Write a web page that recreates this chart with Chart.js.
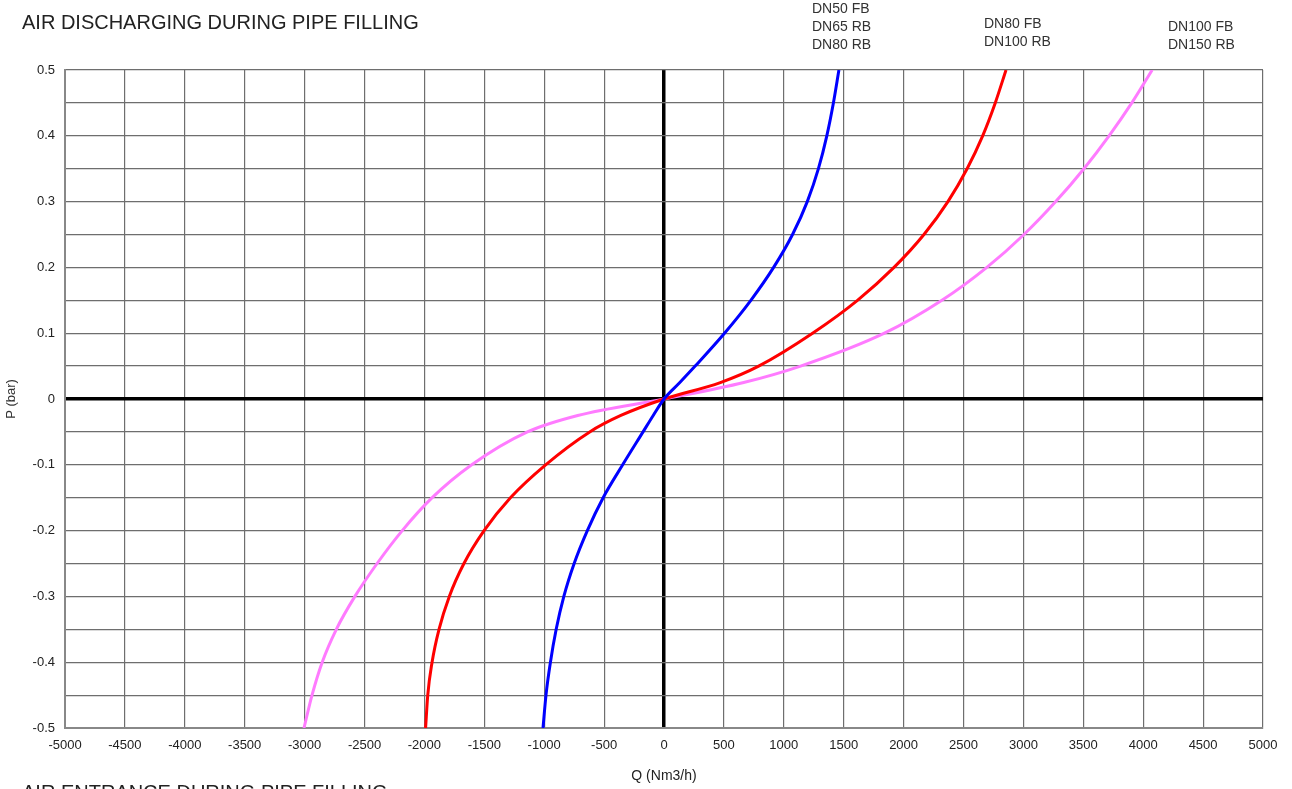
<!DOCTYPE html>
<html>
<head>
<meta charset="utf-8">
<script src="https://cdn.jsdelivr.net/npm/chart.js@4.4.1/dist/chart.umd.min.js"></script>
<style>
    html, body { margin: 0; padding: 0; background: #fff; }
    #wrap { width: 1292px; height: 789px; position: relative; }
</style>
</head>
<body>
<div id="wrap"><canvas id="airChart"></canvas></div>
<script>
// pressure levels (bar) where the curves were read
const pLevels = [-0.5, -0.45, -0.4, -0.35, -0.3, -0.25, -0.2, -0.15, -0.1, -0.05, -0.025, 0,
                 0.025, 0.05, 0.1, 0.15, 0.2, 0.25, 0.3, 0.35, 0.4, 0.45, 0.5];

// flow Q (Nm3/h) at each pressure level
const qDN50 = [-1010, -985, -948, -900, -836, -750, -640, -508, -345, -175, -90, 0,
               132, 260, 505, 725, 915, 1073, 1196, 1289, 1359, 1414, 1460];
const qDN80 = [-1990, -1972, -1936, -1878, -1792, -1670, -1502, -1282, -988, -620, -360, 0,
               470, 790, 1240, 1615, 1920, 2170, 2370, 2530, 2660, 2765, 2855];
const qDN100 = [-3005, -2938, -2853, -2735, -2580, -2395, -2185, -1935, -1605, -1140, -720, 0,
                665, 1140, 1840, 2320, 2695, 3005, 3270, 3505, 3715, 3905, 4075];

const seriesNames = ['DN50 FB / DN65 RB / DN80 RB', 'DN80 FB / DN100 RB', 'DN100 FB / DN150 RB'];

const chartTitle = 'AIR DISCHARGING DURING PIPE FILLING';
const nextTitle = 'AIR ENTRANCE DURING PIPE FILLING';

function toPoints(qs) {
    return qs.map((q, i) => ({ x: q, y: pLevels[i] }));
}

const textPlugin = {
    id: 'texts',
    afterDraw(chart) {
        const ctx = chart.ctx;
        ctx.save();
        ctx.fillStyle = '#222';
        ctx.textAlign = 'left';
        ctx.textBaseline = 'alphabetic';
        ctx.font = '20px "Liberation Sans", Arial, sans-serif';
        ctx.fillText(chartTitle, 22, 29);
        ctx.fillText(nextTitle, 22, 799);

        ctx.fillStyle = '#333';
        ctx.font = '14px "Liberation Sans", Arial, sans-serif';
        ctx.textBaseline = 'middle';
        ['DN50 FB', 'DN65 RB', 'DN80 RB'].forEach((t, i) => ctx.fillText(t, 812, 9 + i * 18));
        ['DN80 FB', 'DN100 RB'].forEach((t, i) => ctx.fillText(t, 984, 24 + i * 18));
        ['DN100 FB', 'DN150 RB'].forEach((t, i) => ctx.fillText(t, 1168, 27 + i * 18));
        ctx.restore();
    }
};

function gridColor(c) {
    return Math.abs(c.tick.value) < 1e-9 ? '#000' : '#6e6e6e';
}
function gridWidth(c) {
    return Math.abs(c.tick.value) < 1e-9 ? 3.5 : 1.2;
}

const ctx = document.getElementById('airChart').getContext('2d');
new Chart(ctx, {
    type: 'scatter',
    data: {
        datasets: [
            {
                label: seriesNames[0],
                data: toPoints(qDN50),
                borderColor: '#0000ff',
                showLine: true,
                borderWidth: 3,
                pointRadius: 0,
                cubicInterpolationMode: 'monotone'
            },
            {
                label: seriesNames[1],
                data: toPoints(qDN80),
                borderColor: '#ff0000',
                showLine: true,
                borderWidth: 3,
                pointRadius: 0,
                cubicInterpolationMode: 'monotone'
            },
            {
                label: seriesNames[2],
                data: toPoints(qDN100),
                borderColor: '#ff7bff',
                showLine: true,
                borderWidth: 3,
                pointRadius: 0,
                cubicInterpolationMode: 'monotone'
            }
        ]
    },
    options: {
        responsive: true,
        maintainAspectRatio: false,
        animation: false,
        layout: {
            padding: { top: 70, right: 29, left: 0, bottom: 0 }
        },
        scales: {
            x: {
                type: 'linear',
                min: -5000,
                max: 5000,
                afterFit: s => { s.height = 61; },
                ticks: {
                    stepSize: 500,
                    padding: 10,
                    maxRotation: 0,
                    autoSkip: false,
                    color: '#222',
                    font: { family: '"Liberation Sans", Arial, sans-serif', size: 13 },
                    callback: v => String(v)
                },
                grid: {
                    color: gridColor,
                    lineWidth: gridWidth,
                    drawTicks: false
                },
                border: { display: true, color: '#888', width: 2 },
                title: {
                    display: true,
                    text: 'Q (Nm3/h)',
                    color: '#222',
                    padding: { top: 4, bottom: 4 },
                    font: { family: '"Liberation Sans", Arial, sans-serif', size: 14 }
                }
            },
            y: {
                type: 'linear',
                min: -0.5,
                max: 0.5,
                afterFit: s => { s.width = 65; },
                ticks: {
                    stepSize: 0.05,
                    padding: 10,
                    autoSkip: false,
                    color: '#222',
                    font: { family: '"Liberation Sans", Arial, sans-serif', size: 13 },
                    callback: v => {
                        const r = Math.round(v * 100);
                        if (r % 10 !== 0) return '';
                        return String(r / 100);
                    }
                },
                grid: {
                    color: gridColor,
                    lineWidth: gridWidth,
                    drawTicks: false
                },
                border: { display: true, color: '#888', width: 2 },
                title: {
                    display: true,
                    text: 'P (bar)',
                    color: '#333',
                    padding: { top: 4, bottom: 4 },
                    font: { family: '"Liberation Sans", Arial, sans-serif', size: 13 }
                }
            }
        },
        plugins: {
            legend: { display: false },
            tooltip: { enabled: false }
        }
    },
    plugins: [textPlugin]
});
</script>
</body>
</html>
